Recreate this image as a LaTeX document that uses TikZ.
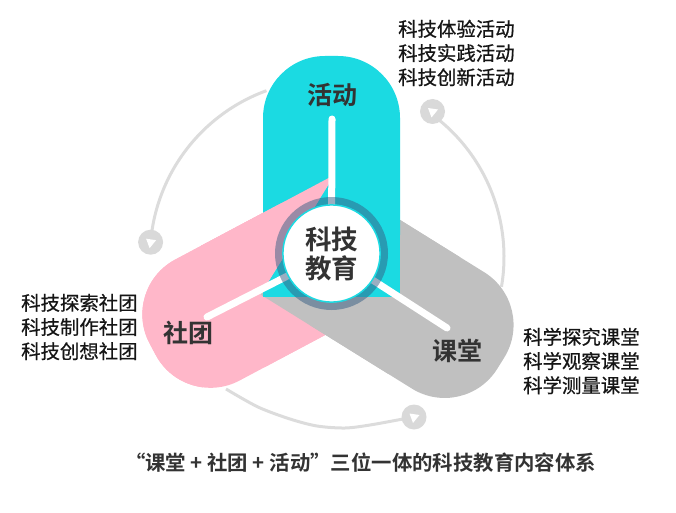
\documentclass[tikz,border=0pt]{standalone}
\usepackage{fontspec}
\newfontfamily\cjk{Noto Sans CJK SC}[FakeBold=0.7]
\newfontfamily\cjkb{Noto Sans CJK SC Bold}
\definecolor{cyanc}{HTML}{1BDAE2}
\definecolor{pinkc}{HTML}{FFB7C9}
\definecolor{grayc}{HTML}{C0C0C0}
\definecolor{arcc}{HTML}{DCDCDC}
\definecolor{mkc}{HTML}{D9D9D9}
\definecolor{ringc}{HTML}{365E84}
\definecolor{labelc}{HTML}{333333}
\definecolor{listc}{HTML}{151515}
\newcommand\myband[4]{%
  \begin{scope}[shift={(#2,#3)}, rotate=#4]
    \fill[#1, rounded corners=62pt] (0,-68.5) rectangle (240.5,68.5);
    \fill[#1] (0,-68.5) rectangle (150,68.5);
  \end{scope}}
\begin{document}
\begin{tikzpicture}[x=1pt,y=-1pt,
  arcline/.style={draw=arcc, line width=3pt},
  mkr/.style={circle, fill=mkc, minimum size=25pt, inner sep=0pt},
  spokeline/.style={draw=white, line width=7pt, line cap=round},
  lbl/.style={font=\cjkb\fontsize{25pt}{25pt}\selectfont, text=labelc, inner sep=0pt},
  lst/.style={font=\cjk\fontsize{19.4pt}{24.2pt}\selectfont, text=listc, align=left, anchor=west, inner sep=0pt},
  captxt/.style={font=\cjkb\fontsize{20.4pt}{20.4pt}\selectfont, text=labelc, inner sep=0pt}]
\useasboundingbox (0,0) rectangle (676,513);
% outer arcs
\path (327,257) ++(-110:177) coordinate (a1s);
\path (327,257) ++(9.7:177) coordinate (a2s);
\draw[arcline] (a1s) arc[start angle=-110,end angle=-175,radius=177];
\draw[arcline] (a2s) arc[start angle=9.7,end angle=-54,radius=177];
\draw[arcline] plot[smooth] coordinates {(226,389) (258,407) (290,419) (317,426) (345,428) (370,425) (403,419) (414,417)};
% markers
\node[mkr] (m1) at (150.6,242.2) {};
\node[mkr] (m2) at (432.5,111.5) {};
\node[mkr] (m3) at (414,417) {};
\foreach \m in {m1,m2,m3}
  \fill[white, shift={(\m.center)}] (-4.5,-3.5) -- (5.5,-2) -- (-1,6) -- cycle;
% bands
\myband{pinkc}{365}{236.25}{-152}
\myband{grayc}{296.5}{236.25}{-31.85}
\myband{cyanc}{331.5}{296.5}{90}
\begin{scope}
  \clip (464.5,-34.4) -- (128.5,506.9) -- (-100,506.9) -- (-100,-34.4) -- cycle;
  \myband{pinkc}{365}{236.25}{-152}
\end{scope}
% spokes
\coordinate (O) at (331.5,253.5);
\coordinate (sc) at (332,119);
\coordinate (sp) at (207,317);
\coordinate (sg) at (447,328);
\draw[spokeline] (sc) -- (O);
\draw[spokeline] (sp) -- (O);
\draw[spokeline] (sg) -- (O);
% centre ring
\fill[ringc, fill opacity=.5, even odd rule] (O) circle (56.5) circle (49);
\filldraw[fill=white, draw=cyanc, line width=1.5pt] (O) circle (48.6);
\node[lbl, font=\cjkb\fontsize{26.5pt}{29pt}\selectfont, align=center] (ctr) at (331.5,254) {科技\\教育};
% band labels
\node[lbl] (lhd) at (332,95) {活动};
\node[lbl] (lst1) at (188,333) {社团};
\node[lbl] (lkt) at (457,351) {课堂};
% lists
\node[lst] (listA) at (398,53) {科技体验活动\\科技实践活动\\科技创新活动};
\node[lst] (listB) at (21,327) {科技探索社团\\科技制作社团\\科技创想社团};
\node[lst] (listC) at (523,361) {科学探究课堂\\科学观察课堂\\科学测量课堂};
% caption
\node[captxt] (cap) at (360.5,463) {“课堂 + 社团 + 活动”三位一体的科技教育内容体系};
\end{tikzpicture}
\end{document}
